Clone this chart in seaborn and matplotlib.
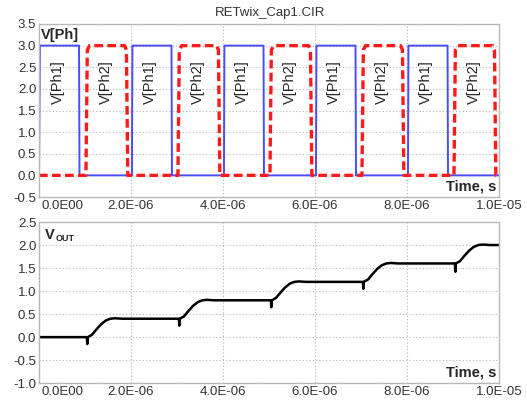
import numpy as np
import matplotlib
matplotlib.use("Agg")
import matplotlib.pyplot as plt
import matplotlib.transforms as mtransforms
import seaborn as sns
from matplotlib.ticker import FuncFormatter, MultipleLocator

# times in microseconds
ph1_t = [0.0, 0.02, 0.87, 0.88, 2.02, 2.03, 2.88, 2.89, 4.02, 4.03, 4.88, 4.89,
         6.02, 6.03, 6.88, 6.89, 8.02, 8.03, 8.88, 8.89, 10.0]
ph1_v = [0.0, 3.0, 3.0, 0.0, 0.0, 3.0, 3.0, 0.0, 0.0, 3.0, 3.0, 0.0,
         0.0, 3.0, 3.0, 0.0, 0.0, 3.0, 3.0, 0.0, 0.0]

ph2_t = [0.0, 1.02, 1.05, 1.10, 1.86, 1.90, 1.93, 3.02, 3.05, 3.10, 3.86, 3.90, 3.93,
         5.02, 5.05, 5.10, 5.86, 5.90, 5.93, 7.02, 7.05, 7.10, 7.86, 7.90, 7.93,
         9.02, 9.05, 9.10, 9.86, 9.90, 9.93, 10.0]
ph2_v = [0.0, 0.0, 2.9, 3.0, 3.0, 2.9, 0.0, 0.0, 2.9, 3.0, 3.0, 2.9, 0.0,
         0.0, 2.9, 3.0, 3.0, 2.9, 0.0, 0.0, 2.9, 3.0, 3.0, 2.9, 0.0,
         0.0, 2.9, 3.0, 3.0, 2.9, 0.0, 0.0]

out_t = [0.0, 1.04, 1.05, 1.06, 1.15, 1.25, 1.35, 1.45, 1.55, 1.65, 1.80,
         3.04, 3.05, 3.06, 3.15, 3.25, 3.35, 3.45, 3.55, 3.65, 3.80,
         5.04, 5.05, 5.06, 5.15, 5.25, 5.35, 5.45, 5.55, 5.65, 5.80,
         7.04, 7.05, 7.06, 7.15, 7.25, 7.35, 7.45, 7.55, 7.65, 7.80,
         9.04, 9.05, 9.06, 9.15, 9.25, 9.35, 9.45, 9.55, 9.65, 9.80, 10.0]
out_v = [0.0, 0.0, -0.15, 0.0, 0.05, 0.17, 0.28, 0.36, 0.40, 0.41, 0.40,
         0.40, 0.25, 0.40, 0.45, 0.57, 0.68, 0.76, 0.80, 0.81, 0.80,
         0.80, 0.65, 0.80, 0.85, 0.97, 1.08, 1.16, 1.20, 1.21, 1.20,
         1.20, 1.05, 1.20, 1.25, 1.37, 1.48, 1.56, 1.60, 1.61, 1.60,
         1.60, 1.42, 1.60, 1.65, 1.77, 1.88, 1.96, 2.00, 2.01, 2.00, 2.00]

pulse_labels = ["V[Ph1]", "V[Ph2]"] * 5
pulse_centers = [0.42, 1.46, 2.42, 3.46, 4.42, 5.46, 6.42, 7.46, 8.42, 9.46]

sns.set_style("whitegrid")
plt.rcParams['font.family'] = ['Liberation Sans', 'DejaVu Sans']

fig = plt.figure(figsize=(5.27, 4.0), dpi=100)
ax1 = fig.add_axes([0.074, 0.5075, 0.873, 0.4325])
ax2 = fig.add_axes([0.074, 0.042, 0.873, 0.403])

us = 1e-6
sns.lineplot(x=np.array(ph1_t) * us, y=ph1_v, ax=ax1, color='#4b4bff', lw=1.4,
             estimator=None, sort=False)
sns.lineplot(x=np.array(ph2_t) * us, y=ph2_v, ax=ax1, color='#ff1a1a', lw=2.4,
             estimator=None, sort=False, linestyle=(0, (2.6, 1.3)))
sns.lineplot(x=np.array(out_t) * us, y=out_v, ax=ax2, color='black', lw=1.8,
             estimator=None, sort=False)

for lab, c in zip(pulse_labels, pulse_centers):
    ax1.text(c * us, 2.15, lab, rotation=90, ha='center', va='center', fontsize=10.5)

def efmt(x, pos):
    if abs(x) < 1e-12:
        return ""
    return f"{x:.1E}"

for ax, lo, hi in [(ax1, -0.5, 3.5), (ax2, -1.0, 2.5)]:
    ax.set_xlim(0, 1e-5)
    ax.set_ylim(lo, hi)
    ax.xaxis.set_major_locator(MultipleLocator(2e-6))
    ax.yaxis.set_major_locator(MultipleLocator(0.5))
    ax.xaxis.set_major_formatter(FuncFormatter(efmt))
    ax.yaxis.set_major_formatter(FuncFormatter(lambda y, p: f"{y:.1f}"))
    ax.grid(True, color='#b5b5b5', linestyle=(0, (1, 2)), lw=0.8)
    ax.tick_params(length=0, labelsize=9.5, colors='#333333')
    ax.tick_params(axis='x', pad=2)
    ax.tick_params(axis='y', pad=2)
    for s in ax.spines.values():
        s.set_color('#b8b8b8')
        s.set_linewidth(1.0)
    ax.set_xlabel('')
    ax.set_ylabel('')
    ax.text(0.995, 0.02, 'Time, s', transform=ax.transAxes, ha='right', va='bottom',
            fontsize=10.5, fontweight='bold')
    # first x label sits left-aligned at the axis origin
    tr = ax.get_xaxis_transform() + mtransforms.ScaledTranslation(2 / 72, -2 / 72, fig.dpi_scale_trans)
    ax.text(0, 0, '0.0E00', transform=tr, ha='left', va='top', fontsize=9.5,
            color='#333333')

ax1.text(0.005, 0.975, 'V[Ph]', transform=ax1.transAxes, ha='left', va='top',
         fontsize=10.5, fontweight='bold')
ax2.text(0.013, 0.965, 'V', transform=ax2.transAxes, ha='left', va='top',
         fontsize=10.5, fontweight='bold')
ax2.text(0.037, 0.925, 'OUT', transform=ax2.transAxes, ha='left', va='top',
         fontsize=6.5, fontweight='bold')

fig.text(0.512, 0.968, 'RETwix_Cap1.CIR', ha='center', va='center', fontsize=9.5,
         color='#333333')

fig.savefig('out.png', dpi=100)
